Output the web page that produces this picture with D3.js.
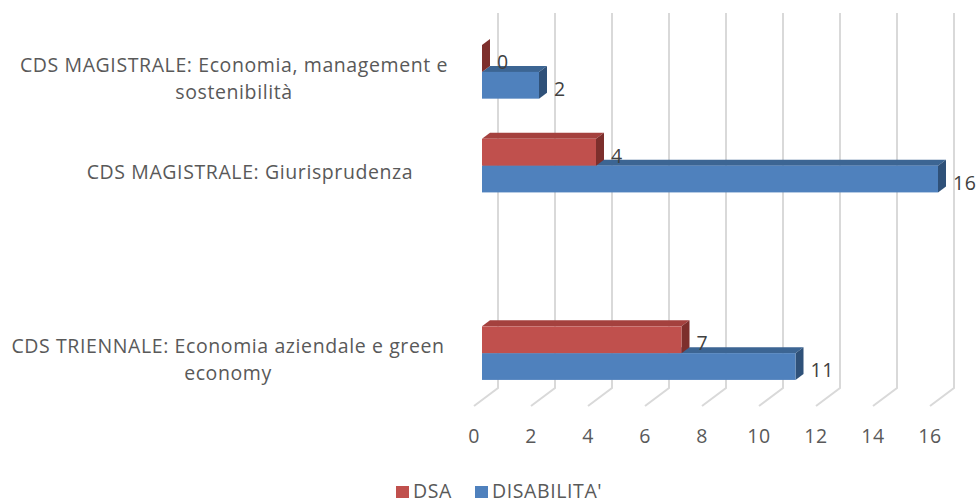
<!DOCTYPE html>
<html><head><meta charset="utf-8">
<script src="https://cdn.jsdelivr.net/npm/d3@7"></script>
<style>body{margin:0;background:#fff}svg{display:block}</style>
</head><body>
<svg id="c" width="980" height="504"></svg>
<script>
// ---- data ----
const categories = [
  ["CDS MAGISTRALE: Economia, management e", "sostenibilità"],
  ["CDS MAGISTRALE: Giurisprudenza"],
  [""],
  ["CDS TRIENNALE: Economia aziendale e green", "economy"]
];
const seriesNames = ["DSA", "DISABILITA'"];
const dsaValues = [0, 4, null, 7];
const disabilitaValues = [2, 16, null, 11];
const tickValues = [0, 2, 4, 6, 8, 10, 12, 14, 16];

// ---- styles ----
const FONT = "'Open Sans', Lato, sans-serif";
const FS = "19.5px";
const LS = "0.6px";
const colors = {
  "DSA": {front: "#C0504D", top: "#A4413E", side: "#7D2F2C"},
  "DISABILITA'": {front: "#4F81BD", top: "#3C6593", side: "#2F5179"}
};
const depth = {dx: 24, dy: -18};
const barOff = {dx: 8, dy: -6};
const barDepth = {dx: 8, dy: -6};

const svg = d3.select("#c");
const x = d3.scaleLinear().domain([0, 16]).range([474, 930]);
const y = d3.scaleBand().domain(d3.range(categories.length)).range([31, 406]);
const sub = d3.scaleBand().domain(seriesNames).range([0, y.bandwidth()]).paddingInner(0).paddingOuter(0.75);

// gridlines (back wall + floor)
const grid = svg.append("g");
tickValues.forEach(t => {
  const xf = x(t), xb = x(t) + depth.dx;
  const yTop = y.range()[0] + depth.dy, yBot = y.range()[1] + depth.dy;
  grid.append("path")
    .attr("d", `M${xb},${yTop} L${xb},${yBot} L${xf},${y.range()[1]}`)
    .attr("fill", "none").attr("stroke", "#D9D9D9").attr("stroke-width", 2);
});

// tick labels
svg.append("g").selectAll("text").data(tickValues).join("text")
  .attr("x", d => x(d)).attr("y", 443)
  .attr("text-anchor", "middle")
  .style("font-family", FONT).style("font-size", FS).style("letter-spacing", LS).attr("fill", "#595959")
  .text(d => d);

// bars
const bars = [];
categories.forEach((c, i) => {
  [["DSA", dsaValues[i]], ["DISABILITA'", disabilitaValues[i]]].forEach(([s, v]) => {
    if (v === null || v === undefined) return;
    bars.push({i, s, v, y0: y(i) + sub(s), h: sub.bandwidth()});
  });
});
bars.sort((a, b) => b.y0 - a.y0);
const gb = svg.append("g");
bars.forEach(b => {
  const xL = x(0) + barOff.dx, xR = x(b.v) + barOff.dx;
  const yT = b.y0 + barOff.dy, yB = yT + b.h;
  const c = colors[b.s];
  const g = gb.append("g");
  g.append("path").attr("d",
    `M${xL},${yT} L${xR},${yT} L${xR + barDepth.dx},${yT + barDepth.dy} L${xL + barDepth.dx},${yT + barDepth.dy} Z`)
    .attr("fill", c.top);
  g.append("path").attr("d",
    `M${xR},${yT} L${xR + barDepth.dx},${yT + barDepth.dy} L${xR + barDepth.dx},${yB + barDepth.dy} L${xR},${yB} Z`)
    .attr("fill", c.side);
  if (xR > xL) g.append("rect").attr("x", xL).attr("y", yT).attr("width", xR - xL).attr("height", b.h)
    .attr("fill", c.front);
});

// value labels
svg.append("g").selectAll("text").data(bars).join("text")
  .attr("x", d => x(d.v) + barOff.dx + 15)
  .attr("y", d => d.y0 + barOff.dy + d.h / 2 + 3)
  .attr("dominant-baseline", "central")
  .style("font-family", FONT).style("font-size", FS).style("letter-spacing", LS).attr("fill", "#404040")
  .text(d => d.v);

// category labels
const catX = [234, 250, 234, 228];
const lineH = 27;
const cg = svg.append("g");
categories.forEach((lines, i) => {
  const cy = y(i) + y.bandwidth() / 2;
  const t = cg.append("text")
    .attr("text-anchor", "middle")
    .style("font-family", FONT).style("font-size", FS).style("letter-spacing", LS).attr("fill", "#595959");
  lines.forEach((ln, k) => {
    t.append("tspan").attr("x", catX[i])
      .attr("y", cy + (k - (lines.length - 1) / 2) * lineH)
      .attr("dominant-baseline", "central")
      .text(ln);
  });
});

// legend
const lg = svg.append("g");
const legendItems = [{s: "DSA", x: 396}, {s: "DISABILITA'", x: 475}];
legendItems.forEach(it => {
  lg.append("rect").attr("x", it.x).attr("y", 486).attr("width", 13).attr("height", 12)
    .attr("fill", colors[it.s].front);
  lg.append("text").attr("x", it.x + 17).attr("y", 498)
    .style("font-family", FONT).style("font-size", FS).style("letter-spacing", LS).attr("fill", "#595959")
    .text(it.s);
});
</script>
</body></html>
